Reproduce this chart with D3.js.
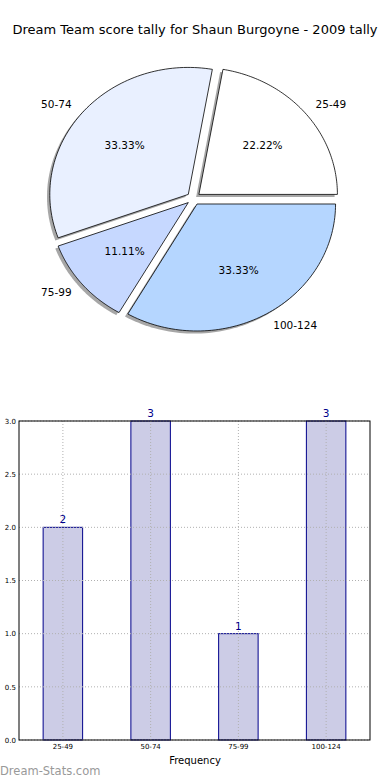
<!DOCTYPE html>
<html><head><meta charset="utf-8">
<script src="https://cdn.jsdelivr.net/npm/d3@7"></script>
<style>body{margin:0;background:#fff}svg{display:block}text{font-family:"DejaVu Sans",sans-serif}</style>
</head><body>
<svg id="c" width="390" height="780"></svg>
<script>
const title = "Dream Team score tally for Shaun Burgoyne - 2009 tally";
const categories = ["25-49","50-74","75-99","100-124"];
const counts = [2,3,1,3];
const pieColors = ["#ffffff","#e9f0ff","#c6d8ff","#b5d6ff"];
const yTicks = [0.0,0.5,1.0,1.5,2.0,2.5,3.0];
const xLabel = "Frequency";
const credit = "Dream-Stats.com";

const svg = d3.select("#c");
svg.append("text").attr("x",195).attr("y",34).attr("text-anchor","middle")
  .attr("font-size",13).attr("fill","#000").text(title);

// ---- Pie (matplotlib-style: start at 0deg, counterclockwise, exploded, shadow) ----
const cx = 193.6, cy = 198.5, rx = 138.5, ry = 127, explode = 0.05;
const total = d3.sum(counts);
let acc = 0;
const slices = counts.map((v,i)=>{const a0 = acc/total*2*Math.PI; acc += v; const a1 = acc/total*2*Math.PI; return {i,v,a0,a1,mid:(a0+a1)/2};});
const offX = s => Math.cos(s.mid)*explode*rx;
const offY = s => -Math.sin(s.mid)*explode*ry;
function slicePath(s, ox, oy){
  const p = d3.path();
  const dx = offX(s)+ox, dy = offY(s)+oy;
  p.moveTo(cx+dx, cy+dy);
  const n=80;
  for(let k=0;k<=n;k++){const a=s.a0+(s.a1-s.a0)*k/n; p.lineTo(cx+dx+Math.cos(a)*rx, cy+dy-Math.sin(a)*ry);}
  p.closePath();
  return p.toString();
}
const pg = svg.append("g");
pg.selectAll("path.sh").data(slices).join("path").attr("class","sh")
  .attr("d",d=>slicePath(d,-2.8,2.6)).attr("fill","#8a8a8a").attr("opacity",0.75);
pg.selectAll("path.sl").data(slices).join("path").attr("class","sl")
  .attr("d",d=>slicePath(d,0,0)).attr("fill",d=>pieColors[d.i]).attr("stroke","#000").attr("stroke-width",0.8);
pg.selectAll("text.lab").data(slices).join("text").attr("class","lab")
  .attr("x",d=>cx+offX(d)+Math.cos(d.mid)*rx*1.1)
  .attr("y",d=>cy+offY(d)-Math.sin(d.mid)*ry*1.1)
  .attr("text-anchor",d=>Math.cos(d.mid)<0?"end":"start")
  .attr("dy","0.35em").attr("font-size",10.5).text(d=>categories[d.i]);
pg.selectAll("text.pct").data(slices).join("text").attr("class","pct")
  .attr("x",d=>cx+offX(d)+Math.cos(d.mid)*rx*0.6)
  .attr("y",d=>cy+offY(d)-Math.sin(d.mid)*ry*0.6)
  .attr("text-anchor","middle").attr("dy","0.35em").attr("font-size",10.5)
  .text(d=>(d.v/total*100).toFixed(2)+"%");

// ---- Bar chart ----
const L=19,R=370,T=421,B=740;
const x = d3.scaleBand().domain(categories).range([L,R]).paddingInner(0).paddingOuter(0);
const y = d3.scaleLinear().domain([0,3]).range([B,T]);
const bw = x.bandwidth()*0.45;
const g = svg.append("g");
g.selectAll("rect.bar").data(counts).join("rect").attr("class","bar")
  .attr("x",(d,i)=>x(categories[i])+x.bandwidth()/2-bw/2).attr("width",bw)
  .attr("y",d=>y(d)).attr("height",d=>B-y(d))
  .attr("fill","#ccccE6").attr("stroke","#00008b").attr("stroke-width",1);
g.append("g").selectAll("line").data(yTicks).join("line")
  .attr("x1",L).attr("x2",R).attr("y1",d=>y(d)).attr("y2",d=>y(d))
  .attr("stroke","#b0b0b0").attr("stroke-dasharray","1,2").attr("stroke-width",1);
g.append("g").selectAll("line").data(categories).join("line")
  .attr("y1",T).attr("y2",B).attr("x1",d=>x(d)+x.bandwidth()/2).attr("x2",d=>x(d)+x.bandwidth()/2)
  .attr("stroke","#b0b0b0").attr("stroke-dasharray","1,2").attr("stroke-width",1);
g.append("rect").attr("x",L).attr("y",T).attr("width",R-L).attr("height",B-T)
  .attr("fill","none").attr("stroke","#000").attr("stroke-width",1);
const ya = g.append("g").attr("transform",`translate(${L},0)`)
  .call(d3.axisLeft(y).tickValues(yTicks).tickFormat(d3.format(".1f")).tickSize(0).tickPadding(3));
ya.select(".domain").remove();
ya.selectAll("text").attr("font-size",7).attr("font-family","DejaVu Sans").attr("fill","#000");
const xa = g.append("g").attr("transform",`translate(0,${B})`)
  .call(d3.axisBottom(x).tickSize(0).tickPadding(4));
xa.select(".domain").remove();
xa.selectAll("text").attr("font-size",7).attr("font-family","DejaVu Sans").attr("fill","#000");
g.selectAll("text.val").data(counts).join("text").attr("class","val")
  .attr("x",(d,i)=>x(categories[i])+x.bandwidth()/2).attr("y",d=>y(d)-4)
  .attr("text-anchor","middle").attr("font-size",10.5).attr("fill","#00008b").text(d=>d);
svg.append("text").attr("x",195).attr("y",764).attr("text-anchor","middle").attr("font-size",10).text(xLabel);
svg.append("text").attr("x",0).attr("y",775).attr("font-size",11.5)
  .attr("fill","#999").text(credit);
</script>
</body></html>
